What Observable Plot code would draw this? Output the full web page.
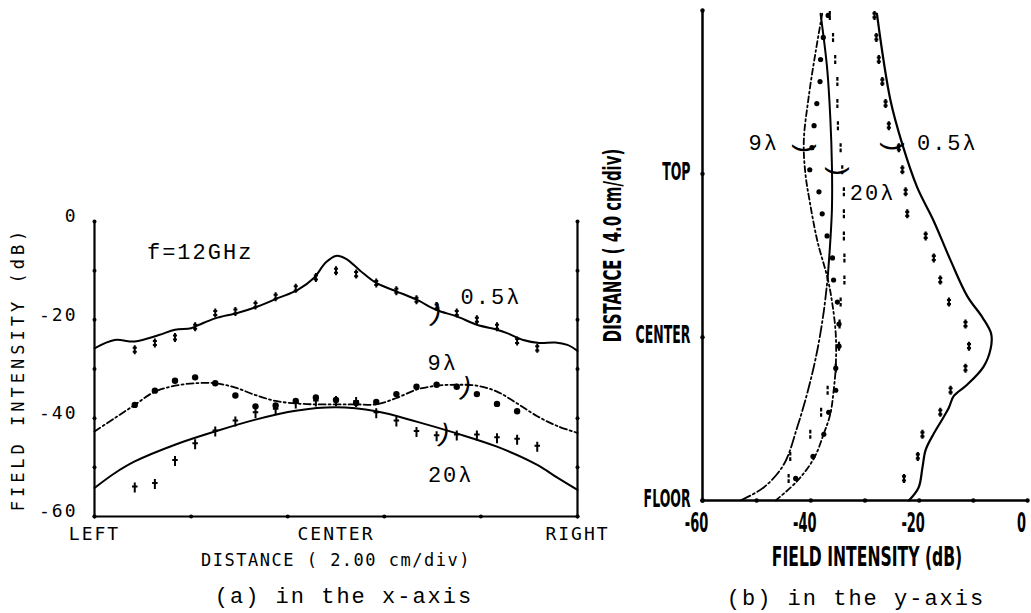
<!DOCTYPE html>
<html><head><meta charset="utf-8">
<script src="https://cdn.jsdelivr.net/npm/d3@7"></script>
<script src="https://cdn.jsdelivr.net/npm/@observablehq/plot@0.6"></script>
<style>
html,body{margin:0;padding:0;background:#fff;}
#wrap{position:relative;width:1031px;height:613px;overflow:hidden;background:#fff;}
#pa,#pb{position:absolute;top:0;}
#pa{left:0;} #pb{left:600px;}
svg{overflow:visible;}
g[aria-description~="ls1"] text{letter-spacing:1.5px;}
g[aria-description~="ls2"] text{letter-spacing:2px;}
g[aria-description~="ls4"] text{letter-spacing:4px;}
</style></head><body><div id="wrap"><div id="pa"></div><div id="pb"></div></div>
<script>
// ---------- Panel (a): in the x-axis ----------
const aLineX05 = [-12, -11, -10, -8.8, -8, -7.2, -6.8, -6, -4.9, -3.9, -2.9, -1.9, -1.1, -0.5, 0, 0.5, 1.2, 2, 3, 4, 5, 6, 7, 8, 8.5, 9.3, 10.1, 10.9, 11.5, 12];
const aLineY05 = [-25.8, -24.1, -24.4, -23.1, -22.0, -21.7, -21.0, -19.7, -18.6, -17.3, -15.6, -13.9, -11.5, -8.3, -7.0, -7.6, -10.0, -12.5, -14.2, -15.9, -18.0, -19.3, -21.0, -22.0, -22.7, -24.1, -24.7, -24.6, -25.1, -26.3];
const aLineX9 = [-12, -11, -10, -9, -8, -7, -6, -5, -4, -3, -2, -1, 0, 1, 2, 3, 4, 5, 6, 7, 8, 9, 10, 11, 12];
const aLineY9 = [-42.7, -40.0, -37.3, -34.6, -33.4, -32.9, -32.9, -33.8, -35.3, -36.5, -37.0, -37.2, -37.2, -37.2, -37.2, -35.9, -34.2, -33.4, -33.2, -33.4, -34.6, -37.0, -39.6, -41.6, -43.0];
const aLineX20 = [-12, -11, -10, -8, -6, -4, -2, 0, 2, 4, 6, 8, 10, 11, 12];
const aLineY20 = [-54.2, -51.2, -48.8, -45.4, -42.7, -40.3, -38.5, -37.8, -38.6, -40.7, -43.1, -45.8, -49.5, -52.1, -54.6];

const aPtX = [-10, -9, -8, -7, -6, -5, -4, -3, -2, -1, 0, 1, 2, 3, 4, 5, 6, 7, 8, 9, 10];
const aPt05 = [-26.1, -24.7, -23.6, -21.4, -18.6, -18.3, -17.0, -15.3, -13.6, -11.4, -10.0, -10.7, -12.5, -14.1, -15.9, -17.3, -18.6, -20.0, -21.4, -24.3, -25.8];
const aPt9 = [-37.3, -34.4, -32.4, -31.7, -32.9, -35.4, -37.6, -37.4, -36.5, -35.8, -36.3, -36.9, -36.7, -35.1, -33.6, -33.2, -33.6, -35.1, -37.1, -38.6];
const aPt20 = [-54.1, -53.4, -48.7, -45.3, -42.7, -40.7, -39.0, -38.3, -37.0, -36.6, -36.5, -36.7, -39.0, -40.7, -42.8, -43.7, -43.5, -43.5, -44.1, -44.4, -45.8];

const aYTicks = [0, -10, -20, -30, -40, -50, -60];
const aXTicks = [-12, -7.2, -2.4, 2.4, 7.2, 12];
const aYLabelValues = [0, -20, -40, -60];
const aYLabels = ["0", "-20", "-40", "-60"];
const aXLabelValues = [-12, 0, 12];
const aXLabels = ["LEFT", "CENTER", "RIGHT"];
const aSeriesLabels = ["0.5λ", "9λ", "20λ"];
const aSeriesLabelX = [7.7, 5.3, 5.7];
const aSeriesLabelY = [-15.3, -28.8, -51.5];
const aBracketX = [4.97, 6.45, 5.36];
const aBracketY = [-18.6, -33.6, -43.1];

// ---------- Panel (b): in the y-axis ----------
const bPtD = [0.135, 0.27, 0.405, 0.54, 0.675, 0.81, 0.945, 1.08, 1.215, 1.35, 1.485, 1.62, 1.755, 1.89, 2.025, 2.16, 2.295, 2.43, 2.565, 2.7, 2.835, 2.97];
const bPt05 = [-22.8, -20.25, -19.4, -16.1, -14.2, -11.45, -10.8, -11.45, -14.5, -16.1, -17.3, -18.8, -22.2, -22.5, -23.1, -23.75, -25.6, -26.2, -26.8, -27.45, -27.9, -28.25];
const bPt9 = [-42.8, -39.6, -37.6, -36.7, -35.4, -35.4, -34.8, -34.8, -35.1, -35.8, -36.0, -37.0, -37.9, -38.5, -40.2, -39.8, -39.4, -38.9, -38.3, -38.2, -37.7, -36.8];
const bPt20 = [-44.1, -43.8, -40.1, -38.1, -36.9, -35.4, -34.8, -34.7, -34.5, -33.8, -33.8, -33.9, -33.9, -33.9, -34.2, -34.5, -35.0, -35.1, -35.1, -35.5, -35.9, -36.5];

const bLineD05 = [0, 0.08, 0.2, 0.31, 0.41, 0.51, 0.57, 0.64, 0.71, 0.82, 0.93, 1.02, 1.12, 1.25, 1.47, 1.71, 1.92, 2.18, 2.45, 2.98];
const bLineV05 = [-21.9, -20.1, -19.4, -18.8, -17.3, -15.5, -14.5, -13.6, -11.1, -8.1, -6.8, -6.7, -8.3, -11.1, -14.2, -17.3, -20.4, -23.1, -25.3, -27.8];
const bLineD9 = [0, 0.12, 0.26, 0.41, 0.53, 0.67, 0.82, 1.02, 1.22, 1.36, 1.59, 1.83, 2.0, 2.2, 2.47, 2.75, 2.98];
const bLineV9 = [-46.5, -42.5, -39.4, -37.6, -36.4, -35.8, -35.4, -35.4, -36.1, -36.9, -38.8, -40.2, -41.0, -41.3, -40.4, -39.1, -37.9];
const bLineD20Upper = [1.36, 1.59, 1.79, 2.04, 2.34, 2.65, 2.98];
const bLineV20Upper = [-36.9, -36.4, -36.1, -36.1, -36.4, -37.0, -38.2];
const bLineD20Lower = [0, 0.08, 0.22, 0.45, 0.69, 0.92, 1.16, 1.36];
const bLineV20Lower = [-53.0, -48.7, -45.0, -42.5, -40.4, -38.8, -37.6, -36.9];

const bXTicks = [-60, -50, -40, -30, -20, -10, 0];
const bYTicks = [0, 1, 2, 3];
const bXLabelValues = [-60, -40, -20, 0];
const bXLabels = ["-60", "-40", "-20", "0"];
const bYLabelValues = [0, 1, 2];
const bYLabels = ["FLOOR", "CENTER", "TOP"];
const bSeriesLabels = ["9λ", "20λ", "0.5λ"];
const bSeriesLabelV = [-48.7, -28.6, -14.8];
const bSeriesLabelD = [2.19, 1.88, 2.19];
const bBracketV = [-41.0, -34.9, -24.7];
const bBracketD = [2.16, 2.02, 2.17];

// ---------- helpers ----------
const zip = (xs, ys) => xs.map((x, i) => ({x, y: ys[i]}));
const plotter = "DejaVu Sans Mono, monospace";
const courier = "Liberation Mono, Courier New, monospace";
const narrow = "DejaVu Sans, sans-serif";

const symDoubleBar = {draw(ctx, size) {
  const r = Math.sqrt(size / Math.PI), w = r * 0.45;
  ctx.moveTo(0, -r); ctx.lineTo(0, r);
  ctx.moveTo(-w, -r * 0.45); ctx.lineTo(w, -r * 0.45);
  ctx.moveTo(-w, r * 0.45); ctx.lineTo(w, r * 0.45);
}};
const symDagger = {draw(ctx, size) {
  const r = Math.sqrt(size / Math.PI), w = r * 0.55;
  ctx.moveTo(0, -r); ctx.lineTo(0, r);
  ctx.moveTo(-w, -r * 0.2); ctx.lineTo(w, -r * 0.2);
}};
const symBroken = {draw(ctx, size) {
  const r = Math.sqrt(size / Math.PI);
  ctx.moveTo(0, -r); ctx.lineTo(0, -r * 0.2);
  ctx.moveTo(0, r * 0.2); ctx.lineTo(0, r);
}};

// ---------- Panel (a) ----------
const plotA = Plot.plot({
  width: 600, height: 613,
  marginLeft: 94, marginRight: 23, marginTop: 221, marginBottom: 97,
  x: {domain: [-12, 12], axis: null},
  y: {domain: [-60, 0], axis: null},
  style: {background: "transparent", overflow: "visible", color: "black"},
  marks: [
    Plot.ruleX([-12, 12], {y1: -60, y2: 0, stroke: "black", strokeWidth: 2.2}),
    Plot.ruleY([-60], {x1: -12, x2: 12, stroke: "black", strokeWidth: 2.2}),
    Plot.dot(aYTicks, {x: () => -12, y: d => d, r: 2, fill: "black"}),
    Plot.dot(aYTicks, {x: () => 12, y: d => d, r: 2, fill: "black"}),
    Plot.dot(aXTicks, {x: d => d, y: () => -60, r: 2, fill: "black"}),
    Plot.line(zip(aLineX05, aLineY05), {x: "x", y: "y", curve: "catmull-rom", stroke: "black", strokeWidth: 2}),
    Plot.line(zip(aLineX9, aLineY9), {x: "x", y: "y", curve: "catmull-rom", stroke: "black", strokeWidth: 1.8, strokeDasharray: "7,3,2,3"}),
    Plot.line(zip(aLineX20, aLineY20), {x: "x", y: "y", curve: "catmull-rom", stroke: "black", strokeWidth: 2}),
    Plot.dot(zip(aPtX, aPt05), {x: "x", y: "y", symbol: symDoubleBar, r: 4.5, stroke: "black", fill: "none", strokeWidth: 2}),
    Plot.dot(zip(aPtX.slice(0, aPt9.length), aPt9), {x: "x", y: "y", r: 3.2, fill: "black"}),
    Plot.dot(zip(aPtX, aPt20), {x: "x", y: "y", symbol: symDagger, r: 5, stroke: "black", fill: "none", strokeWidth: 2}),
    Plot.text(aYLabels, {x: () => -12, y: (d, i) => aYLabelValues[i], text: d => d, textAnchor: "end", dx: -17, dy: -5, fontFamily: plotter, fontSize: 18, ariaDescription: "ls2"}),
    Plot.text(aXLabels, {x: (d, i) => aXLabelValues[i], y: () => -60, text: d => d, dy: 18, fontFamily: plotter, fontSize: 18, ariaDescription: "ls2"}),
    Plot.text(["DISTANCE ( 2.00 cm/div)"], {frameAnchor: "bottom", lineAnchor: "middle", dy: 44, text: d => d, fontFamily: plotter, fontSize: 17, ariaDescription: "ls1"}),
    Plot.text(["FIELD INTENSITY (dB)"], {frameAnchor: "left", textAnchor: "middle", lineAnchor: "middle", rotate: -90, dx: -76, text: d => d, fontFamily: plotter, fontSize: 17, ariaDescription: "ls4"}),
    Plot.text(["(a) in the x-axis"], {frameAnchor: "bottom", textAnchor: "middle", lineAnchor: "middle", dy: 79, dx: 8, text: d => d, fontFamily: courier, fontSize: 22, ariaDescription: "ls2"}),
    Plot.text(["f=12GHz"], {x: () => -6.75, y: () => -6.1, text: d => d, fontFamily: courier, fontSize: 22, ariaDescription: "ls2"}),
    Plot.text(aSeriesLabels, {x: (d, i) => aSeriesLabelX[i], y: (d, i) => aSeriesLabelY[i], text: d => d, fontFamily: courier, fontSize: 22, ariaDescription: "ls2"}),
    Plot.text(aBracketX, {x: d => d, y: (d, i) => aBracketY[i], text: () => ")", rotate: 15, fontFamily: courier, fontSize: 26})
  ]
});
document.getElementById("pa").appendChild(plotA);

// ---------- Panel (b) ----------
const plotB = Plot.plot({
  width: 431, height: 613,
  marginLeft: 102, marginRight: 4, marginTop: 10, marginBottom: 113,
  x: {domain: [-60, 0], axis: null},
  y: {domain: [0, 3], axis: null},
  style: {background: "transparent", overflow: "visible", color: "black"},
  marks: [
    Plot.ruleX([-60], {y1: 0, y2: 3, stroke: "black", strokeWidth: 2.5}),
    Plot.ruleY([0], {x1: -60, x2: 0, stroke: "black", strokeWidth: 2.5}),
    Plot.dot(bXTicks, {x: d => d, y: () => 0, r: 2.2, fill: "black"}),
    Plot.dot(bYTicks, {x: () => -60, y: d => d, r: 2.2, fill: "black"}),
    Plot.line(zip(bLineV05, bLineD05), {x: "x", y: "y", curve: "catmull-rom", stroke: "black", strokeWidth: 2.2}),
    Plot.line(zip(bLineV9, bLineD9), {x: "x", y: "y", curve: "catmull-rom", stroke: "black", strokeWidth: 1.8, strokeDasharray: "6,3,2,3"}),
    Plot.line(zip(bLineV20Upper, bLineD20Upper), {x: "x", y: "y", curve: "catmull-rom", stroke: "black", strokeWidth: 2}),
    Plot.line(zip(bLineV20Lower, bLineD20Lower), {x: "x", y: "y", curve: "catmull-rom", stroke: "black", strokeWidth: 1.8, strokeDasharray: "11,3,2,3"}),
    Plot.dot(zip(bPt05, bPtD), {x: "x", y: "y", symbol: symDoubleBar, r: 4.5, stroke: "black", fill: "none", strokeWidth: 2.2}),
    Plot.dot(zip(bPt20, bPtD), {x: "x", y: "y", symbol: symBroken, r: 4.5, stroke: "black", fill: "none", strokeWidth: 2.2}),
    Plot.dot(zip(bPt9, bPtD), {x: "x", y: "y", r: 2.6, fill: "black"}),
    Plot.text(bYLabels, {x: () => -60, y: (d, i) => bYLabelValues[i], text: d => d, textAnchor: "end", dx: -12, dy: -2, fontFamily: narrow, fontWeight: "bold", fontSize: 25, ariaDescription: "sx0.5"}),
    Plot.text(bXLabels, {x: (d, i) => bXLabelValues[i], y: () => 0, text: d => d, dx: -6, dy: 23, fontFamily: narrow, fontWeight: "bold", fontSize: 26, ariaDescription: "sx0.5"}),
    Plot.text(["FIELD INTENSITY (dB)"], {frameAnchor: "bottom", textAnchor: "middle", lineAnchor: "middle", dy: 57, dx: 2, text: d => d, fontFamily: narrow, fontWeight: "bold", fontSize: 26, ariaDescription: "sx0.6"}),
    Plot.text(["DISTANCE ( 4.0 cm/div)"], {frameAnchor: "left", textAnchor: "middle", lineAnchor: "middle", rotate: -90, dx: -89, dy: -10, text: d => d, fontFamily: narrow, fontWeight: "bold", fontSize: 24, ariaDescription: "sx0.62"}),
    Plot.text(["(b) in the y-axis"], {frameAnchor: "bottom", textAnchor: "middle", lineAnchor: "middle", dy: 97, dx: -9, text: d => d, fontFamily: courier, fontSize: 22, ariaDescription: "ls2"}),
    Plot.text(bSeriesLabels, {x: (d, i) => bSeriesLabelV[i], y: (d, i) => bSeriesLabelD[i], text: d => d, fontFamily: courier, fontSize: 22, ariaDescription: "ls2"}),
    Plot.text(bBracketV, {x: d => d, y: (d, i) => bBracketD[i], text: () => ")", rotate: 90, fontFamily: courier, fontSize: 26})
  ]
});
document.getElementById("pb").appendChild(plotB);

// condense the narrow plotter lettering of panel (b) along its reading direction
d3.selectAll("g[aria-description]").each(function () {
  const tok = this.getAttribute("aria-description").split(/\s+/).find(t => t.startsWith("sx"));
  if (!tok) return;
  const s = +tok.slice(2);
  d3.select(this).selectAll("text").each(function () {
    const w = this.getComputedTextLength();
    if (w > 0) {
      this.setAttribute("textLength", (w * s).toFixed(1));
      this.setAttribute("lengthAdjust", "spacingAndGlyphs");
    }
  });
});
</script>
</body></html>
